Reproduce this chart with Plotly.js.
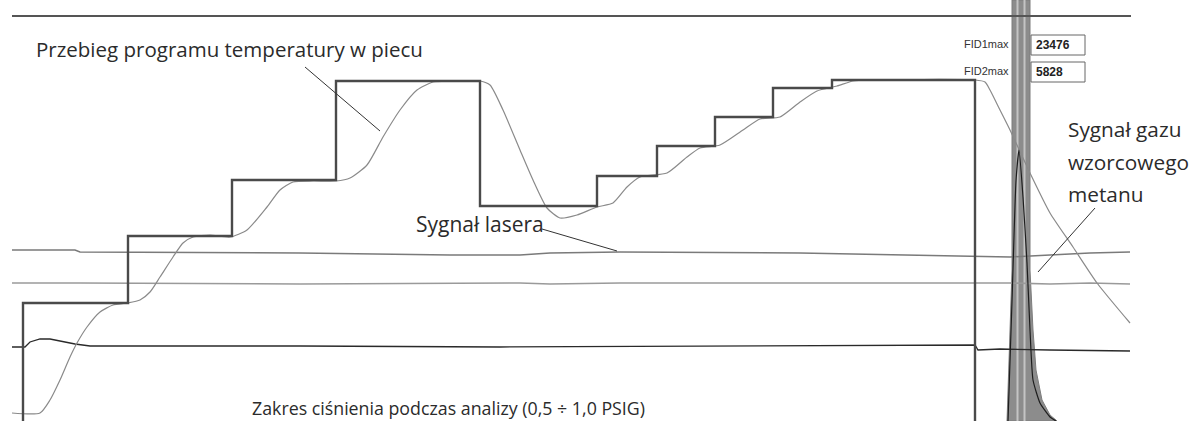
<!DOCTYPE html>
<html>
<head>
<meta charset="utf-8">
<script src="https://cdn.plot.ly/plotly-3.0.1.min.js"></script>
<style>html,body{margin:0;padding:0;background:#fff}#chart{width:1194px;height:421px}</style>
</head>
<body>
<div id="chart"></div>
<script>
// Values; x = time (arbitrary units), y = signal level (arbitrary units, 0 = bottom)
const H = 421;
// Temperature program (set-point staircase)
const programX = [23, 23, 128, 128, 232, 232, 336, 336, 480, 480, 597, 597, 657, 657, 715, 715, 773, 773, 832, 832, 975, 975];
const programY = [0, 118, 118, 185, 185, 241, 241, 340, 340, 215, 215, 245, 245, 275, 275, 304, 304, 333, 333, 341, 341, 0];
// Actual furnace temperature
const tempX = [12, 40, 50, 60, 70, 77, 87, 100, 113, 127, 140, 150, 160, 173, 183, 193, 210, 230, 247, 267, 280, 293, 313, 336, 350, 367, 383, 400, 417, 433, 450, 480, 490, 503, 520, 533, 547, 560, 577, 597, 613, 627, 640, 667, 687, 700, 720, 743, 760, 780, 800, 817, 837, 853, 870, 975, 985, 990, 1000, 1010, 1030, 1050, 1073, 1097, 1130];
const tempY = [8, 8, 21, 41, 64, 78, 94, 109, 116, 118, 121, 129, 144, 164, 178, 184, 186, 184, 191, 214, 231, 239, 240, 240, 243, 256, 284, 311, 331, 339, 340, 340, 336, 311, 271, 241, 213, 203, 206, 214, 218, 234, 244, 248, 264, 273, 276, 291, 302, 304, 319, 330, 335, 340, 341, 341, 339, 331, 311, 291, 248, 208, 174, 138, 98];
// Laser signals and pressure
const sigX = [12, 75, 80, 300, 450, 520, 550, 620, 800, 940, 975, 1010, 1050, 1090, 1130];
const laser1Y = [171, 171, 169, 168, 166, 166, 168, 169, 168, 165, 164, 164, 166, 168, 169];
const laser2Y = [138, 138, 138, 137, 138, 138, 137, 138, 138, 138, 138, 138, 137, 138, 137];
const pressX = [12, 25, 30, 40, 50, 60, 75, 90, 200, 300, 500, 700, 975, 978, 1000, 1050, 1100, 1130];
const pressY = [74, 74, 79, 82, 82, 80, 77, 75, 75, 75, 74, 75, 76, 71, 72, 71, 70, 70];
// Methane reference gas FID peak (clipped band + peak trace)
const bandX = [1012, 1012, 1007, 1057, 1050, 1042, 1036, 1033, 1030, 1030, 1012];
const bandY = [421, 151, 0, 0, 6, 21, 51, 91, 151, 421, 421];
const peakX = [1008, 1012, 1016, 1019, 1023, 1027, 1030, 1033, 1040, 1050, 1056];
const peakY = [0, 120, 240, 271, 224, 158, 91, 41, 18, 4, 0];
const stripX = [1017.5, 1024.5];
const fidLabels = ['FID1max', 'FID2max'];
const fidValues = ['23476', '5828'];

const grey = '#8a8a8a';
const traces = [
  {x: bandX, y: bandY, mode: 'lines', fill: 'toself', fillcolor: '#8c8c8c', line: {color: '#7d7d7d', width: 1}, hoverinfo: 'skip'},
  {x: [stripX[0], stripX[0]], y: [0, H], mode: 'lines', line: {color: '#c4c4c4', width: 2}},
  {x: [stripX[1], stripX[1]], y: [0, H], mode: 'lines', line: {color: '#c4c4c4', width: 2}},
  {x: sigX, y: laser1Y, mode: 'lines', line: {color: '#7a7a7a', width: 1.5}},
  {x: sigX, y: laser2Y, mode: 'lines', line: {color: '#9a9a9a', width: 1.6}},
  {x: pressX, y: pressY, mode: 'lines', line: {color: '#2a2a2a', width: 1.3}},
  {x: tempX, y: tempY, mode: 'lines', line: {color: grey, width: 1.2, shape: 'spline', smoothing: 0.6}},
  {x: programX, y: programY, mode: 'lines', line: {color: '#4a4a4a', width: 2.4}},
  {x: peakX, y: peakY, mode: 'lines', line: {color: '#1e1e1e', width: 1.2, shape: 'spline', smoothing: 0.5}}
];

const txt = '#2b2b2b';
const fam = 'Open Sans, Noto Sans, sans-serif';
const annotations = [
  {x: 34, y: H - 49, text: 'Przebieg programu temperatury w piecu', xanchor: 'left', yanchor: 'middle', font: {family: fam, size: 20.5, color: txt}},
  {x: 414, y: H - 224, text: 'Sygnał lasera', xanchor: 'left', yanchor: 'middle', font: {family: fam, size: 21, color: txt}},
  {x: 250, y: H - 408, text: 'Zakres ciśnienia podczas analizy (0,5 ÷ 1,0 PSIG)', xanchor: 'left', yanchor: 'middle', font: {family: fam, size: 17.8, color: txt}},
  {x: 1066, y: H - 129, text: 'Sygnał gazu', xanchor: 'left', yanchor: 'middle', font: {family: fam, size: 20.8, color: txt}},
  {x: 1066, y: H - 162, text: 'wzorcowego', xanchor: 'left', yanchor: 'middle', font: {family: fam, size: 20.8, color: txt}},
  {x: 1066, y: H - 194, text: 'metanu', xanchor: 'left', yanchor: 'middle', font: {family: fam, size: 20.8, color: txt}},
  {x: 1011, y: H - 44, text: fidLabels[0], xanchor: 'right', yanchor: 'middle', font: {family: 'Liberation Sans, Arial', size: 11, color: '#333'}},
  {x: 1011, y: H - 71, text: fidLabels[1], xanchor: 'right', yanchor: 'middle', font: {family: 'Liberation Sans, Arial', size: 11, color: '#333'}},
  {x: 1034, y: H - 45, text: '<b>' + fidValues[0] + '</b>', xanchor: 'left', yanchor: 'middle', font: {family: 'Liberation Sans, Arial', size: 12, color: '#222'}},
  {x: 1034, y: H - 72, text: '<b>' + fidValues[1] + '</b>', xanchor: 'left', yanchor: 'middle', font: {family: 'Liberation Sans, Arial', size: 12, color: '#222'}}
].map(a => Object.assign({xref: 'x', yref: 'y', showarrow: false}, a));

const shapes = [
  {type: 'line', x0: 12, x1: 1131, y0: H - 16, y1: H - 16, line: {color: '#555', width: 2}},
  {type: 'line', x0: 305, y0: H - 67, x1: 380, y1: H - 131, line: {color: '#333', width: 1}},
  {type: 'line', x0: 542, y0: H - 229, x1: 617, y1: H - 251, line: {color: '#333', width: 1}},
  {type: 'line', x0: 1095, y0: H - 208, x1: 1038, y1: H - 272, line: {color: '#333', width: 1}},
  {type: 'rect', x0: 1031, x1: 1085, y0: H - 55, y1: H - 35, line: {color: '#666', width: 1}, fillcolor: '#fff'},
  {type: 'rect', x0: 1031, x1: 1085, y0: H - 82, y1: H - 62, line: {color: '#666', width: 1}, fillcolor: '#fff'}
].map(s => Object.assign({xref: 'x', yref: 'y', layer: 'above'}, s));

const layout = {
  width: 1194, height: 421,
  margin: {l: 0, r: 0, t: 0, b: 0},
  paper_bgcolor: '#fff', plot_bgcolor: '#fff',
  showlegend: false,
  xaxis: {range: [0, 1194], visible: false, fixedrange: true},
  yaxis: {range: [0, H], visible: false, fixedrange: true},
  annotations: annotations,
  shapes: shapes
};
Plotly.newPlot('chart', traces, layout, {staticPlot: true, displayModeBar: false});
</script>
</body>
</html>
